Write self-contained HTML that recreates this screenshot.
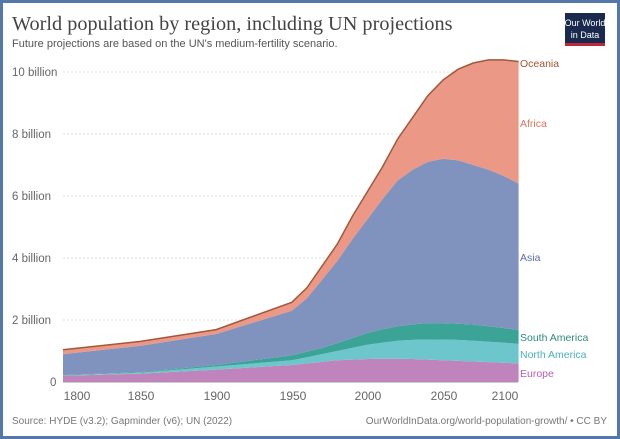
<!DOCTYPE html>
<html><head><meta charset="utf-8"><style>
body{margin:0;width:620px;height:439px;overflow:hidden;background:#fff;font-family:"Liberation Sans",sans-serif}
#f{position:absolute;left:0;top:0;width:614px;height:433px;border:3px solid #5578aa}
</style></head><body>
<div id="f"></div>
<svg id="s" width="620" height="439" style="position:absolute;left:0;top:0">
<text x="12" y="30" font-family="Liberation Serif,serif" font-size="20.3" fill="#444">World population by region, including UN projections</text>
<text x="12" y="47" font-size="11" fill="#555">Future projections are based on the UN's medium-fertility scenario.</text>
<rect x="565" y="13" width="40" height="33" fill="#1a2a4f"/><rect x="565" y="43" width="40" height="3" fill="#c0283a"/>
<text x="585" y="26" font-size="9" fill="#fff" text-anchor="middle">Our World</text>
<text x="585" y="38" font-size="9" fill="#fff" text-anchor="middle">in Data</text>
<g id="grid"></g><g id="areas"></g>
<g font-size="11.5" fill="#666">
<text x="12" y="76">10 billion</text><text x="12" y="138">8 billion</text><text x="12" y="200">6 billion</text><text x="12" y="262">4 billion</text><text x="12" y="324">2 billion</text><text x="50" y="386">0</text>
</g>
<g font-size="12" fill="#666" text-anchor="middle">
<text x="77" y="400">1800</text><text x="141" y="400">1850</text><text x="217" y="400">1900</text><text x="293" y="400">1950</text><text x="368" y="400">2000</text><text x="444" y="400">2050</text><text x="505" y="400">2100</text>
</g>
<g font-size="10.5">
<text x="520" y="67" fill="#a0522d">Oceania</text>
<text x="520" y="127" fill="#d9735f">Africa</text>
<text x="520" y="261" fill="#5a6ea8">Asia</text>
<text x="520" y="341" fill="#2e8b7c">South America</text>
<text x="520" y="358" fill="#4bb0bb">North America</text>
<text x="520" y="377" fill="#b45fb0">Europe</text>
</g>
<text x="12" y="424" font-size="10" fill="#777">Source: HYDE (v3.2); Gapminder (v6); UN (2022)</text>
<text x="607" y="424" font-size="10" fill="#777" text-anchor="end">OurWorldInData.org/world-population-growth/ • CC BY</text>
</svg>
<script>
var Y=[1792,1850,1900,1950,1960,1970,1980,1990,2000,2010,2020,2030,2040,2050,2060,2070,2080,2090,2100];
var E=[.2,.27,.4,.55,.6,.65,.7,.72,.74,.75,.75,.74,.72,.7,.68,.66,.64,.62,.6];
var N=[.21,.3,.5,.7,.8,.9,1.0,1.1,1.2,1.27,1.33,1.36,1.37,1.37,1.36,1.33,1.3,1.27,1.23];
var S=[.22,.32,.55,.86,.98,1.1,1.25,1.42,1.58,1.7,1.8,1.86,1.9,1.9,1.88,1.85,1.8,1.74,1.68];
var A=[.9,1.17,1.55,2.3,2.7,3.3,3.9,4.6,5.25,5.9,6.5,6.85,7.1,7.2,7.15,7.0,6.85,6.65,6.4];
var F=[1.0,1.27,1.65,2.53,3.0,3.7,4.4,5.3,6.1,6.9,7.8,8.5,9.2,9.7,10.05,10.25,10.35,10.35,10.3];
function x(y){return Math.max(63,65+(y-1800)*1.512)} function yy(v){return 382-v*31}
var g=document.getElementById('grid'),h='';
for(var i=1;i<=5;i++)h+='<line x1="63" x2="518" y1="'+yy(i*2)+'" y2="'+yy(i*2)+'" stroke="#ddd" stroke-dasharray="2,2"/>';
h+='<line x1="63" x2="518" y1="382" y2="382" stroke="#999"/>';g.innerHTML=h;
function area(lo,hi,c){var p=[];for(var i=0;i<Y.length;i++)p.push(x(Y[i])+','+yy(hi[i]));for(var i=Y.length-1;i>=0;i--)p.push(x(Y[i])+','+yy(lo?lo[i]:0));return '<polygon points="'+p.join(' ')+'" fill="'+c+'"/>';}
var Z=Y.map(function(){return 0});
var O=F.map(function(v){return v+0.04});
var s=area(Z,E,'#c084bc')+area(E,N,'#6ec6cd')+area(N,S,'#3ba497')+area(S,A,'#7f93be')+area(A,O,'#eb9886');
var l=[];for(var i=0;i<Y.length;i++)l.push(x(Y[i])+','+yy(O[i]));
s+='<polyline points="'+l.join(' ')+'" fill="none" stroke="#a0593a" stroke-width="1.5"/>';
document.getElementById('areas').innerHTML=s;
</script>
</body></html>
